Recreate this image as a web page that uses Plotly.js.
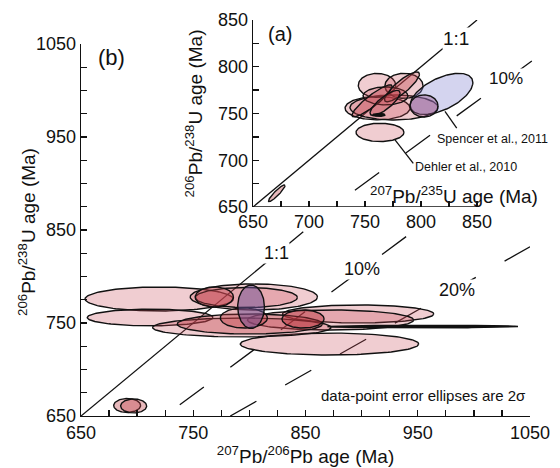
<!DOCTYPE html>
<html><head><meta charset="utf-8">
<script src="https://cdn.plot.ly/plotly-3.0.1.min.js"></script>
<style>body{margin:0;background:#fff}</style>
</head><body><div id="chart" style="width:560px;height:468px"></div>
<script>
// ---------- DATA ----------
// Panel (b): 207Pb/206Pb age (x) vs 206Pb/238U age (y), 2-sigma ellipses
const mainNames = ['S1','S2','A','B','M','J','K','C','D','E','G','F','I','H','L','P'];
const mainCx  = [691.1, 696.9, 719.6, 711.6, 871.4, 896.9, 872.3, 793.3, 800.4, 804.0, 797.3, 768.8, 847.8, 795.1, 954.5, 801.5];
const mainCy  = [661.3, 660.8, 775.8, 755.9, 727.4, 759.7, 753.2, 745.2, 748.9, 778.0, 777.4, 778.0, 754.3, 755.4, 746.2, 767.5];
const mainEx  = [12.0, 11.6, 66.0, 56.0, 79.5, 67.4, 74.0, 79.5, 64.7, 56.7, 45.5, 17.0, 18.8, 21.0, 84.8, 11.9];
const mainEy  = [7.5, 7.5, 12.9, 9.0, 11.8, 9.7, 10.8, 10.2, 10.8, 14.0, 10.8, 10.8, 9.7, 10.8, 1.4, 23.3];
const mainRho = [0,0,0,0,0,0,0,0,0,0,0,0,0,0,0,0];

// Panel (a): 207Pb/235U age (x) vs 206Pb/238U age (y)
const insetNames = ['small','Dehler','i5','i6','i2','i3','Spencer','i7','i11','i4','i9','i10','blob'];
const insetCx  = [671.2, 763.4, 761.2, 775.9, 760.7, 784.8, 818.3, 802.7, 768.3, 783.0, 756.3, 767.9, 762.5];
const insetCy  = [664.7, 729.8, 755.7, 756.5, 780.1, 779.6, 771.0, 758.1, 768.8, 778.5, 763.5, 761.3, 748.5];
const insetEx  = [7.4, 21.4, 29.0, 39.3, 16.7, 17.0, 28.0, 12.5, 20.0, 15.6, 17.9, 13.4, 5.4];
const insetEy  = [8.9, 9.8, 12.5, 13.4, 12.8, 13.4, 22.0, 11.8, 9.6, 16.0, 17.1, 13.4, 1.6];
const insetRho = [0.92, 0, 0, 0, 0, 0, 0.55, 0, 0, 0.85, 0.9, 0.8, 0];

// reference lines (concordance / discordance), data units
const main11X = [650, 848], main11Y = [650, 848];
const main10X = [738, 942], main10Y = [662, 845];
const main20X = [783, 1050], main20Y = [650, 832];
const ins11X = [650, 850], ins11Y = [650, 850];
const ins10X = [741, 900], ins10Y = [668, 807];

// leader lines in panel (a)
const spencerLeadX = [821.4, 831.9], spencerLeadY = [752.2, 734.3];
const dehlerLeadX = [776.8, 793.1], dehlerLeadY = [721.7, 696.7];

const mainTickLabels = [650, 750, 850, 950, 1050];
const mainMinorTicks = [675, 700, 725, 775, 800, 825, 875, 900, 925, 975, 1000, 1025];
const insetTickLabels = [650, 700, 750, 800, 850];
const insetMinorTicks = [675, 725, 775, 825];

// ---------- STYLE ----------
const C = {
  light: 'rgba(200,70,85,0.27)',
  med: 'rgba(190,60,70,0.36)',
  dark: 'rgba(180,45,55,0.42)',
  purple: 'rgba(110,80,150,0.5)',
  lav: 'rgba(125,125,205,0.33)',
  pp: 'rgba(150,85,140,0.4)',
  black: '#111'
};
const mainFill = [C.med, C.med, C.light, C.light, C.light, C.light, C.light, C.light, C.med, C.light, C.light, C.med, C.dark, C.med, C.black, C.purple];
const insetFill = [C.med, C.light, C.light, C.light, C.light, C.light, C.lav, C.pp, C.light, C.med, C.med, C.med, C.black];

function ellipse(cx, cy, ex, ey, rho) {
  const xs = [], ys = [], s = Math.sqrt(1 - rho * rho);
  for (let i = 0; i <= 140; i++) {
    const t = 2 * Math.PI * i / 140;
    xs.push(cx + ex * Math.cos(t));
    ys.push(cy + ey * (rho * Math.cos(t) + s * Math.sin(t)));
  }
  return [xs, ys];
}

const traces = [];
function addEllipses(cx, cy, ex, ey, rho, fills, xa, ya) {
  for (let i = 0; i < cx.length; i++) {
    const [xs, ys] = ellipse(cx[i], cy[i], ex[i], ey[i], rho[i]);
    traces.push({type:'scatter', mode:'lines', x:xs, y:ys, fill:'toself', fillcolor:fills[i],
      line:{color:'#111', width:1.4}, xaxis:xa, yaxis:ya, hoverinfo:'skip', showlegend:false});
  }
}
function addLine(x, y, dash, xa, ya) {
  traces.push({type:'scatter', mode:'lines', x:x, y:y, line:{color:'#111', width:1.3, dash:dash},
    xaxis:xa, yaxis:ya, hoverinfo:'skip', showlegend:false});
}
const DASH = '30px,33px';
addLine(main11X, main11Y, 'solid', 'x', 'y');
addLine(main10X, main10Y, DASH, 'x', 'y');
addLine(main20X, main20Y, DASH, 'x', 'y');
addEllipses(mainCx, mainCy, mainEx, mainEy, mainRho, mainFill, 'x', 'y');
addLine(ins11X, ins11Y, 'solid', 'x2', 'y2');
addLine(ins10X, ins10Y, DASH, 'x2', 'y2');
addEllipses(insetCx, insetCy, insetEx, insetEy, insetRho, insetFill, 'x2', 'y2');
addLine(spencerLeadX, spencerLeadY, 'solid', 'x2', 'y2');
addLine(dehlerLeadX, dehlerLeadY, 'solid', 'x2', 'y2');

const FONT = 'Liberation Sans, Arial, Helvetica, sans-serif';
function axis(major, minor) {
  return {showgrid:false, zeroline:false, showline:true, linecolor:'#111', linewidth:1.3,
    ticks:'inside', ticklen:6, tickwidth:1.3, tickcolor:'#111', tickfont:{size:18, color:'#111'},
    tickmode:'array', tickvals:major, ticktext:major.map(String),
    minor:{tickmode:'array', tickvals:minor, ticks:'inside', ticklen:6, tickwidth:1.3, tickcolor:'#111', showgrid:false}};
}

// plot area: px x 81..545, y 20..416
const layout = {
  width:560, height:468, margin:{l:81, r:15, t:20, b:52},
  paper_bgcolor:'#fff', plot_bgcolor:'rgba(0,0,0,0)',
  font:{family:FONT, size:18, color:'#111'}, showlegend:false,
  xaxis: Object.assign(axis(mainTickLabels, mainMinorTicks), {domain:[0, 449/464], range:[650,1050], anchor:'y',
    title:{text:'<sup>207</sup>Pb/<sup>206</sup>Pb age (Ma)', font:{size:19}, standoff:3}}),
  yaxis: Object.assign(axis(mainTickLabels, mainMinorTicks), {domain:[0, 372/396], range:[650,1050], anchor:'x'}),
  xaxis2: Object.assign(axis(insetTickLabels, insetMinorTicks), {domain:[172/464, 1], range:[650, 650 + 292/1.12], anchor:'y2',
    showline:false, ticklabelstandoff:2}),
  yaxis2: Object.assign(axis(insetTickLabels, insetMinorTicks), {domain:[209/396, 1], range:[650,850], anchor:'x2',
    title:{text:'<sup>206</sup>Pb/<sup>238</sup>U age (Ma)', font:{size:19}, standoff:10}}),
  shapes: [
    {type:'line', xref:'x2', yref:'y2', x0:650, x1:850, y0:650, y1:650, line:{color:'#111', width:1.3}}
  ],
  annotations: [
    {xref:'paper', yref:'paper', x:(27-81)/464, y:(416-232)/396, textangle:-90, text:'<sup>206</sup>Pb/<sup>238</sup>U age (Ma)',
      showarrow:false, font:{size:19}, xanchor:'center', yanchor:'middle'},
    {xref:'x', yref:'y', x:824, y:825, text:'1:1', showarrow:false, font:{size:18}, bgcolor:'#fff', borderpad:0},
    {xref:'x', yref:'y', x:900.4, y:807.7, text:'10%', showarrow:false, font:{size:18}, bgcolor:'#fff', borderpad:0},
    {xref:'x', yref:'y', x:985.3, y:785, text:'20%', showarrow:false, font:{size:18}, bgcolor:'#fff', borderpad:0},
    {xref:'x', yref:'y', x:676.8, y:1036, text:'(b)', showarrow:false, font:{size:22}},
    {xref:'x', yref:'y', x:861.6, y:672, text:'data-point error ellipses are 2σ', showarrow:false, xanchor:'left', font:{size:15}},
    {xref:'x2', yref:'y2', x:674.1, y:834.7, text:'(a)', showarrow:false, font:{size:20}},
    {xref:'x2', yref:'y2', x:831.3, y:830.4, text:'1:1', showarrow:false, font:{size:19}, bgcolor:'#fff', borderpad:0},
    {xref:'x2', yref:'y2', x:875.9, y:787.6, text:'10%', showarrow:false, font:{size:17}, bgcolor:'#fff', borderpad:0},
    {xref:'x2', yref:'y2', x:906, y:663, text:'<sup>207</sup>Pb/<sup>235</sup>U age (Ma)', showarrow:false, xanchor:'right', font:{size:19}},
    {xref:'x2', yref:'y2', x:812.5, y:722.8, text:'Spencer et al., 2011', showarrow:false, xanchor:'left', font:{size:12.5}},
    {xref:'x2', yref:'y2', x:793.1, y:692.3, text:'Dehler et al., 2010', showarrow:false, xanchor:'left', font:{size:12.5}}
  ]
};
Plotly.newPlot('chart', traces, layout, {staticPlot:true, displayModeBar:false});
</script></body></html>
